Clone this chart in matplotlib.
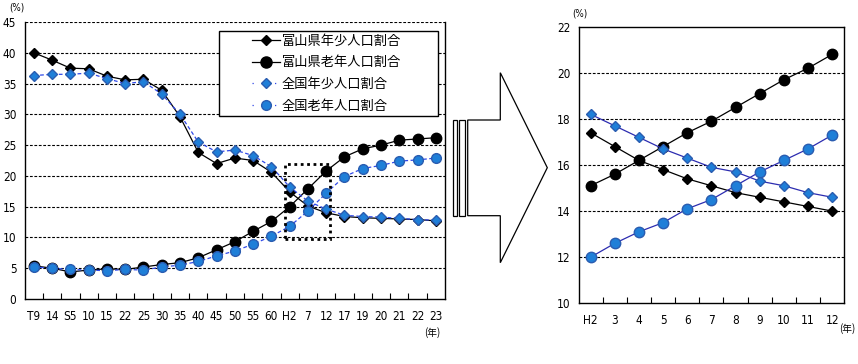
import matplotlib.pyplot as plt
from matplotlib.patches import Polygon, Rectangle

plt.rcParams['font.family'] = ['DejaVu Sans', 'Noto Sans CJK JP']
plt.rcParams['font.stretch'] = 'condensed'

#################### data ####################
years_all = ['T9', '14', 'S5', '10', '15', '22', '25', '30', '35', '40', '45', '50',
             '55', '60', 'H2', '7', '12', '17', '19', '20', '21', '22', '23']
toyama_young = [40.0, 38.8, 37.5, 37.4, 36.2, 35.6, 35.7, 33.9, 29.6, 23.8, 22.0, 22.9,
                22.5, 20.6, 17.4, 15.1, 14.0, 13.4, 13.2, 13.1, 13.0, 12.9, 12.7]
toyama_old = [5.4, 5.0, 4.4, 4.7, 4.9, 4.8, 5.2, 5.6, 5.9, 6.7, 8.0, 9.3,
              11.0, 12.6, 15.0, 17.9, 20.8, 23.1, 24.4, 25.0, 25.8, 26.0, 26.2]
japan_young = [36.3, 36.5, 36.5, 36.7, 35.8, 35.0, 35.3, 33.3, 30.0, 25.5, 23.9, 24.2,
               23.3, 21.5, 18.2, 15.9, 14.6, 13.6, 13.4, 13.3, 13.1, 12.9, 12.8]
japan_old = [5.2, 5.0, 4.8, 4.7, 4.6, 4.8, 4.7, 5.2, 5.5, 6.1, 7.0, 7.8,
             8.9, 10.2, 11.8, 14.3, 17.2, 19.9, 21.2, 21.7, 22.4, 22.6, 22.9]

years_h = ['H2', '3', '4', '5', '6', '7', '8', '9', '10', '11', '12']
toyama_young_h = [17.4, 16.8, 16.2, 15.8, 15.4, 15.1, 14.8, 14.6, 14.4, 14.2, 14.0]
toyama_old_h = [15.1, 15.6, 16.2, 16.8, 17.4, 17.9, 18.5, 19.1, 19.7, 20.2, 20.8]
japan_young_h = [18.2, 17.7, 17.2, 16.7, 16.3, 15.9, 15.7, 15.3, 15.1, 14.8, 14.6]
japan_old_h = [12.0, 12.6, 13.1, 13.5, 14.1, 14.5, 15.1, 15.7, 16.2, 16.7, 17.3]

labels = ['富山県年少人口割合', '富山県老年人口割合', '全国年少人口割合', '全国老年人口割合']

blue_fill = '#1f7fd8'
blue_edge = '#2a5cb0'

W, H = 858, 364
fig = plt.figure(figsize=(W / 100, H / 100), dpi=100)


def px_axes(l, t, r, b):
    return fig.add_axes([l / W, 1 - b / H, (r - l) / W, (b - t) / H])


def style_axes(ax, n, yticks):
    ax.set_xlim(-0.5, n - 0.5)
    ax.set_xticks(range(n))
    ax.set_xticks([i + 0.5 for i in range(n - 1)], minor=True)
    ax.tick_params(axis='x', which='major', length=0, pad=8, labelsize=8.5)
    ax.tick_params(axis='x', which='minor', direction='in', length=4, width=0.8)
    ax.tick_params(axis='y', length=0, pad=6, labelsize=8.5)
    ax.set_yticks(yticks)
    for y in yticks[1:]:
        ax.axhline(y, color='black', lw=0.8, ls=(0, (2.5, 1.5)), zorder=1)
    for s in ax.spines.values():
        s.set_linewidth(1.0)


################### left chart ###################
ax1 = px_axes(24.7, 22, 445, 299)
x = range(len(years_all))
ax1.plot(x, toyama_young, color='black', lw=0.9, marker='D', ms=5.5, mfc='black', mec='black', zorder=4)
ax1.plot(x, toyama_old, color='black', lw=0.9, marker='o', ms=7.5, mfc='black', mec='black', zorder=4)
ax1.plot(x, japan_young, color='#3048e8', lw=0.9, ls=(0, (3, 2)), marker='D', ms=5.5,
         mfc=blue_fill, mec=blue_edge, zorder=5)
ax1.plot(x, japan_old, color='#3048e8', lw=0.9, ls=(0, (3, 2)), marker='o', ms=7,
         mfc=blue_fill, mec=blue_edge, zorder=5)
ax1.set_ylim(0, 45)
style_axes(ax1, len(years_all), list(range(0, 50, 5)))
ax1.set_xticklabels(years_all)
ax1.spines['top'].set_visible(False)

# dotted zoom box
ax1.add_patch(Rectangle((13.75, 9.8), 2.45, 12.1, fill=False, ec='black', lw=2,
                        ls=(0, (1, 1.3)), zorder=6))

# legend (box drawn separately so the padding matches)
leg_handles = [
    plt.Line2D([], [], color='black', lw=0.9, marker='D', ms=5.5, mfc='black', mec='black'),
    plt.Line2D([], [], color='black', lw=0.9, marker='o', ms=8, mfc='black', mec='black'),
    plt.Line2D([], [], color='#3048e8', lw=0.9, ls=(0, (1, 8)), marker='D', ms=5.5,
               mfc=blue_fill, mec=blue_edge),
    plt.Line2D([], [], color='#3048e8', lw=0.9, ls=(0, (1, 8)), marker='o', ms=7,
               mfc=blue_fill, mec=blue_edge),
]
leg = fig.legend(leg_handles, labels, loc='center left', bbox_to_anchor=(252 / W, 1 - 73.5 / H),
                 prop={'family': ['Noto Sans CJK JP'], 'size': 9.5}, frameon=False,
                 borderpad=0, labelspacing=0.66, handlelength=2.1, handletextpad=0.15,
                 borderaxespad=0)
leg.set_zorder(10)
fig.patches.append(Rectangle((219.3 / W, 1 - 116.3 / H), (438.3 - 219.3) / W, (116.3 - 30.7) / H,
                             transform=fig.transFigure, figure=fig, fc='white', ec='black',
                             lw=1.0, zorder=9))

fig.text(17 / W, 1 - 8 / H, '(%)', ha='center', va='center', fontsize=7)
fig.text(432 / W, 1 - 333 / H, '(年)', ha='center', va='center', fontsize=7,
         family=['Noto Sans CJK JP'])

################### right chart ###################
ax2 = px_axes(578.5, 26.7, 844.3, 303.3)
xh = range(len(years_h))
ax2.plot(xh, toyama_young_h, color='black', lw=0.9, marker='D', ms=5.5, mfc='black', mec='black', zorder=4)
ax2.plot(xh, toyama_old_h, color='black', lw=0.9, marker='o', ms=7.5, mfc='black', mec='black', zorder=4)
ax2.plot(xh, japan_young_h, color='#2c2cb0', lw=0.9, marker='D', ms=5.5,
         mfc=blue_fill, mec=blue_edge, zorder=5)
ax2.plot(xh, japan_old_h, color='#2c2cb0', lw=0.9, marker='o', ms=7.5,
         mfc=blue_fill, mec=blue_edge, zorder=5)
ax2.set_ylim(10, 22)
style_axes(ax2, len(years_h), list(range(10, 23, 2))[:-1])
ax2.set_yticks(range(10, 23, 2))
ax2.set_xticklabels(years_h)

fig.text(580 / W, 1 - 14 / H, '(%)', ha='center', va='center', fontsize=7)
fig.text(847 / W, 1 - 329 / H, '(年)', ha='center', va='center', fontsize=7,
         family=['Noto Sans CJK JP'])

################### arrow ###################
def fig_poly(pts, **kw):
    fig.patches.append(Polygon([(px / W, 1 - py / H) for px, py in pts], closed=True,
                               transform=fig.transFigure, figure=fig, **kw))


fig_poly([(467.7, 120), (500.3, 120), (500.3, 72.7), (547.3, 167.7), (500.3, 262.7),
          (500.3, 215.7), (467.7, 215.7)], fill=False, ec='black', lw=0.9)
fig_poly([(453.3, 120), (456.7, 120), (456.7, 215.7), (453.3, 215.7)], fill=False, ec='black', lw=0.9)
fig_poly([(459.3, 120), (465.3, 120), (465.3, 215.7), (459.3, 215.7)], fill=False, ec='black', lw=0.9)

fig.savefig('out.png', dpi=100)
